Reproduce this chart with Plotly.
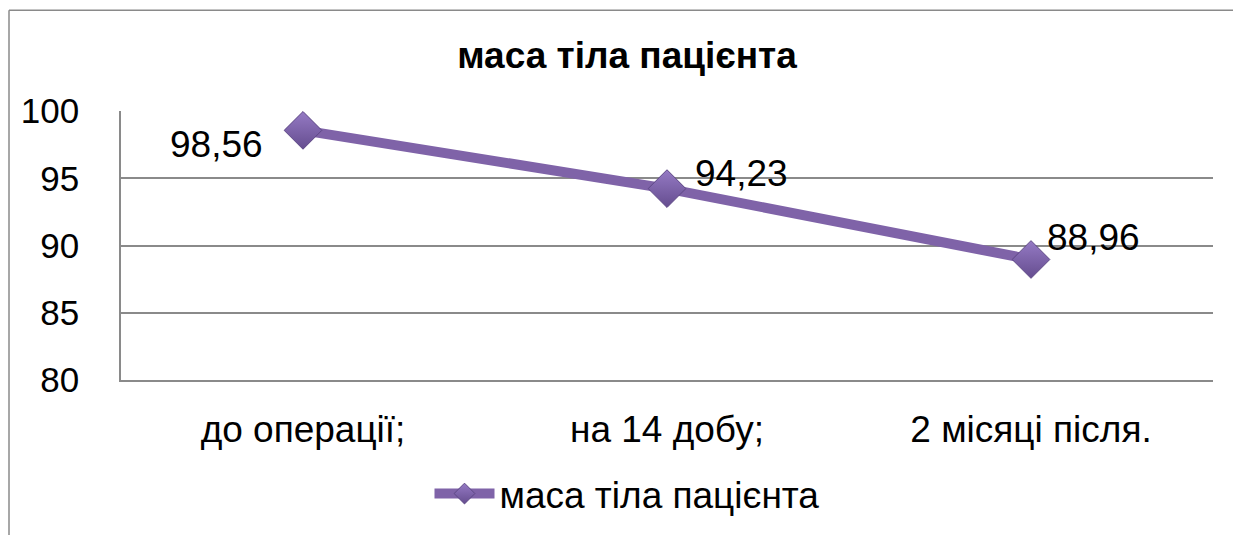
import plotly.graph_objects as go

categories = ["до операції;", "на 14 добу;", "2 місяці після."]
values = [98.56, 94.23, 88.96]
value_labels = ["98,56", "94,23", "88,96"]
series_name = "маса тіла пацієнта"
title_text = "маса тіла пацієнта"
y_ticks = [80, 85, 90, 95, 100]

W, H = 1233, 535
ML, MR, MT, MB = 121, 20, 111, 154
PW, PH = W - ML - MR, H - MT - MB

FONT = "Arial, Liberation Sans, sans-serif"
LINE_C = "#7f63a8"
GRID_C = "#8a8a8a"

fig = go.Figure()
fig.add_trace(go.Scatter(
    x=list(range(len(categories))), y=values, mode="lines+markers", name=series_name,
    line=dict(color=LINE_C, width=10),
    marker=dict(symbol="diamond", size=29, color="#957ac4",
                gradient=dict(type="vertical", color="#654d8f"),
                line=dict(color="#5d4785", width=1)),
))

shifts = [(-87, -14), (74, 15), (62, 22)]
for i, (lbl, (dx, dy)) in enumerate(zip(value_labels, shifts)):
    fig.add_annotation(x=i, y=values[i], text=lbl, showarrow=False, xshift=dx, yshift=dy,
                       font=dict(family=FONT, size=37, color="#000000"))

# outer chart border (left and top edges visible)
px = lambda p: (p - ML) / PW
py = lambda p: (H - MB - p) / PH
fig.add_shape(type="line", xref="paper", yref="paper", x0=px(9), x1=px(1240), y0=py(10), y1=py(10),
              line=dict(color="#8a8a8a", width=1.5))
fig.add_shape(type="line", xref="paper", yref="paper", x0=px(9), x1=px(9), y0=py(10), y1=py(540),
              line=dict(color="#8a8a8a", width=1.5))

fig.update_layout(
    width=W, height=H, margin=dict(l=ML, r=MR, t=MT, b=MB),
    paper_bgcolor="white", plot_bgcolor="white",
    font=dict(family=FONT, size=37, color="#000000"),
    title=dict(text="<b>" + title_text + "</b>", x=627 / W, xanchor="center", y=1 - 55 / H, yanchor="middle",
               font=dict(family=FONT, size=37, color="#000000")),
    showlegend=True,
    legend=dict(orientation="h", x=0.5 + (627 - (ML + PW / 2)) / PW, xanchor="center",
                y=py(494), yanchor="middle", itemwidth=60,
                font=dict(family=FONT, size=37, color="#000000"), bgcolor="rgba(0,0,0,0)"),
    xaxis=dict(range=[-0.5, 2.5], tickmode="array", tickvals=list(range(len(categories))), ticktext=categories,
               showgrid=False, zeroline=False, showline=True, linecolor=GRID_C, linewidth=1.5,
               ticks="", ticklabelstandoff=16, tickfont=dict(family=FONT, size=37)),
    yaxis=dict(range=[80, 100], tickmode="array", tickvals=y_ticks, ticktext=[str(t) for t in y_ticks],
               showgrid=True, gridcolor=GRID_C, gridwidth=1.5, zeroline=False,
               showline=True, linecolor=GRID_C, linewidth=1.5, ticks="", ticklabelstandoff=33,
               tickfont=dict(family=FONT, size=35)),
)

fig.write_html("out.html", config={"displayModeBar": False},
               post_script="document.body.style.margin='0';document.body.style.overflow='hidden';")
